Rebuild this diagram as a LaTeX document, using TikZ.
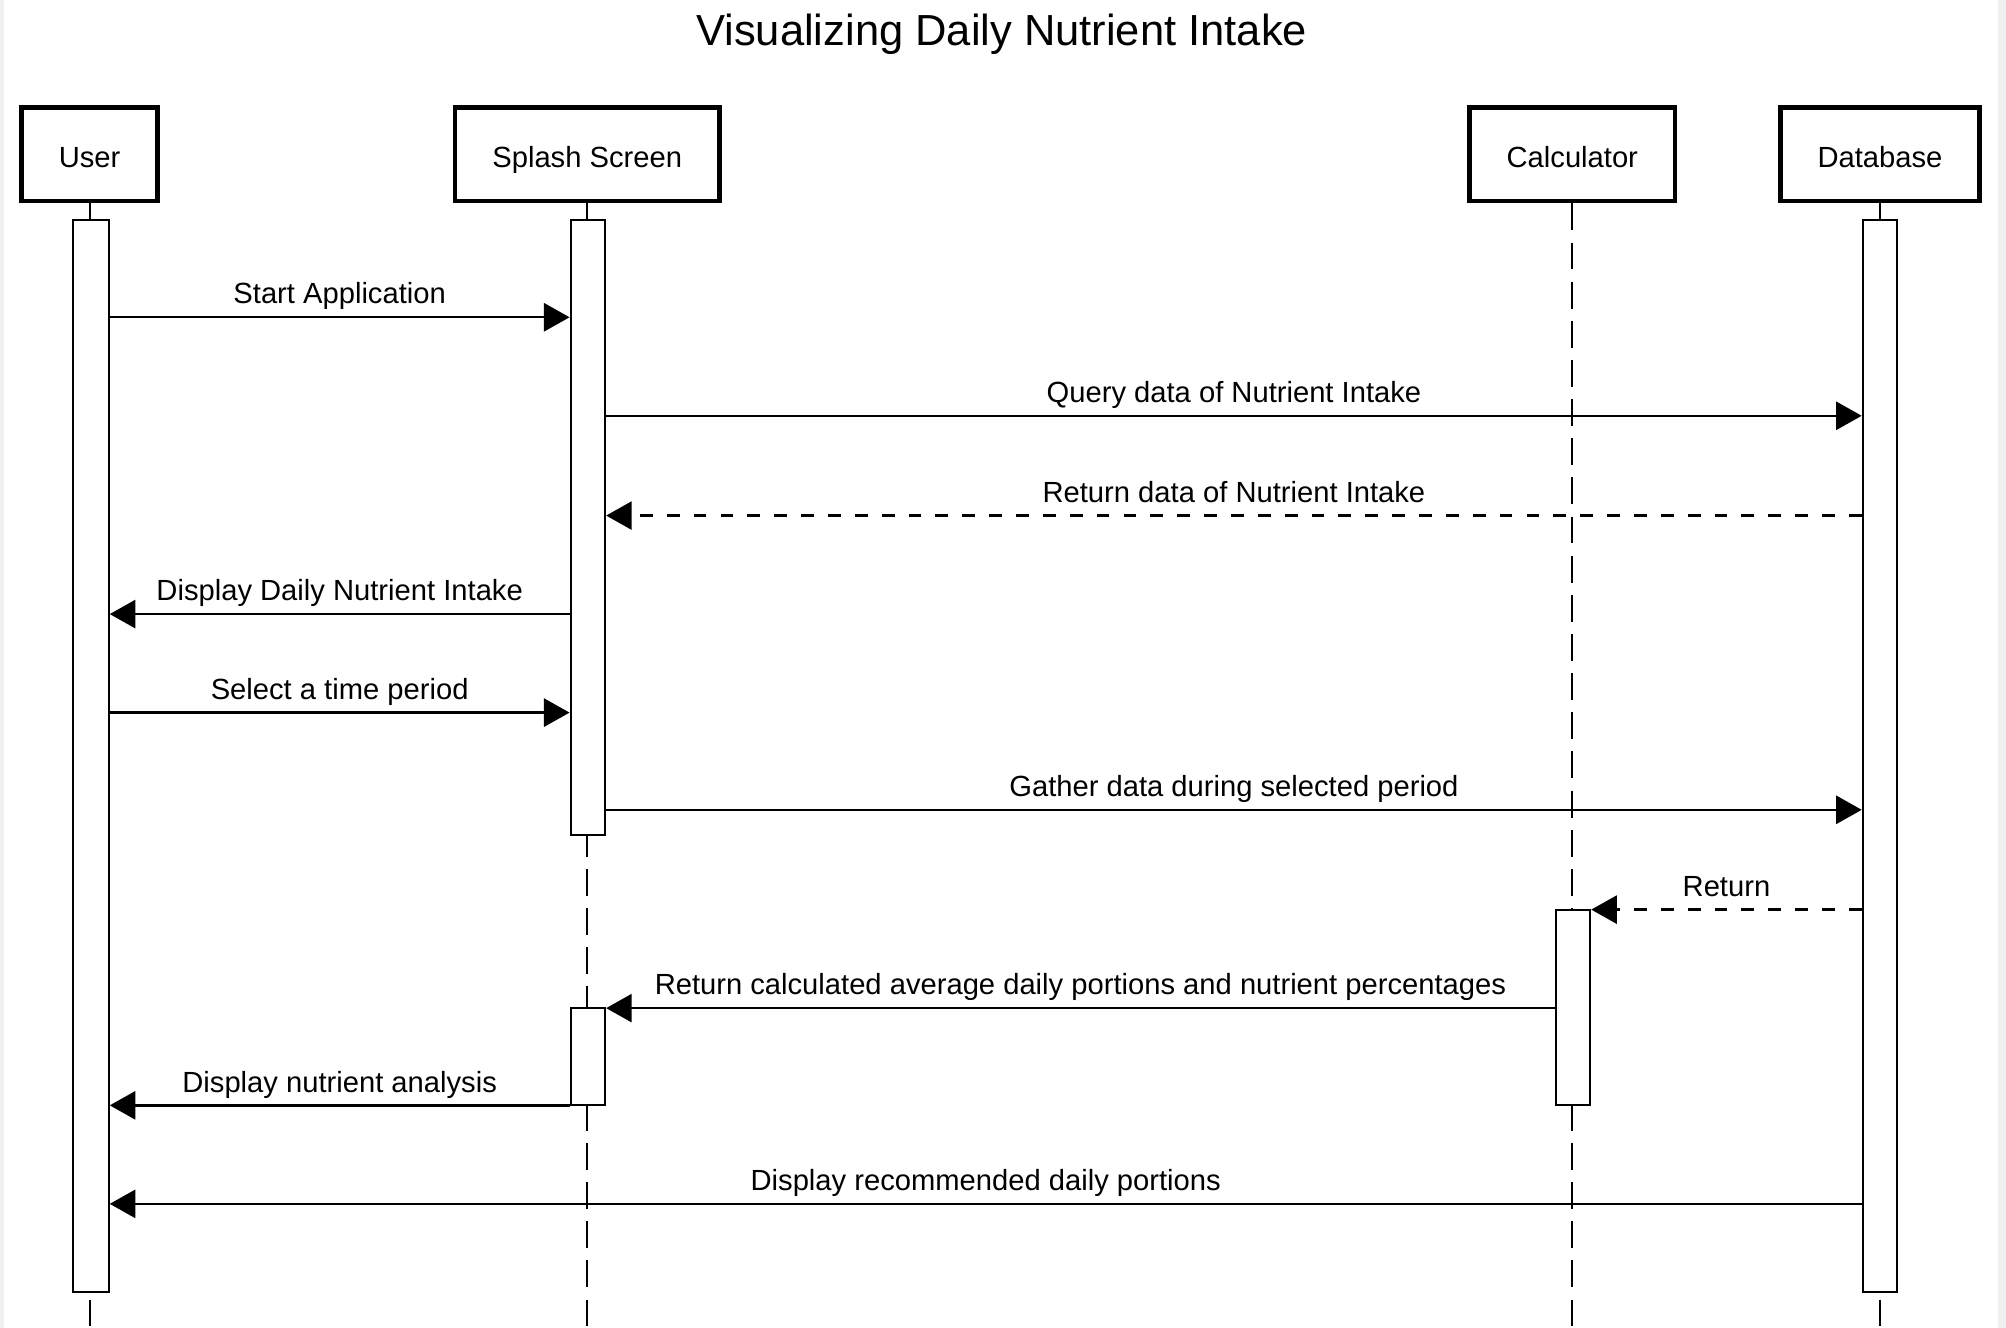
\documentclass[tikz,border=0pt]{standalone}
\usepackage{fontspec}
\setmainfont{Liberation Sans}
\usetikzlibrary{arrows.meta,fit}

\begin{document}
\begin{tikzpicture}[x=0.5pt, y=-0.5pt,
          every node/.style={font=\fontsize{11.4}{13}\selectfont},
          actor/.style={draw, line width=1.8pt, minimum height=36.7pt, inner sep=0pt,
            text height=10.2pt, text depth=0pt},
          bar/.style={draw, fill=white, line width=0.8pt, inner sep=0pt},
          life/.style={line width=0.8pt, dash pattern=on 10.5pt off 4.8pt},
          msg/.style={line width=0.9pt, -{Triangle[length=10pt,width=11pt]}},
          reply/.style={msg, dash pattern=on 5pt off 5.5pt},
          lbl/.style={anchor=base, yshift=5.2pt, inner sep=0pt}]
  \useasboundingbox (0,0) rectangle (1568,1038);
  \fill[black!6] (0,0) rectangle (1568,1038);
  \fill[white] (3,0) rectangle (1562,1038);

  \node[font=\fontsize{17}{20}\selectfont] (title) at (783,27) {Visualizing Daily Nutrient Intake};

  % participants
  \node[actor, minimum width=53.2pt] (user) at (70,120.5) {User};
  \node[actor, minimum width=103.2pt] (splash) at (459,120.5) {Splash Screen};
  \node[actor, minimum width=80.2pt] (calc) at (1229,120.5) {Calculator};
  \node[actor, minimum width=77.7pt] (db) at (1469.5,120.5) {Database};

  % lifelines
  \coordinate (bottom) at (0,1038);
  \draw[life] (user.south) -- (user.south |- bottom);
  \draw[life] (splash.south) -- (splash.south |- bottom);
  \draw[life] (calc.south) -- (calc.south |- bottom);
  \draw[life] (db.south) -- (db.south |- bottom);

  % activations
  \node[bar, fit={(57,172) (85,1010)}] (userbar) {};
  \node[bar, fit={(446,172) (473,653)}] (splbar) {};
  \node[bar, fit={(446,788) (473,864)}] (splbar2) {};
  \node[bar, fit={(1216,711) (1243,864)}] (calcbar) {};
  \node[bar, fit={(1456,172) (1483,1010)}] (dbbar) {};

  % messages
  \coordinate (r1) at (0,248);
  \coordinate (r2) at (0,325);
  \coordinate (r3) at (0,403);
  \coordinate (r4) at (0,480);
  \coordinate (r5) at (0,557);
  \coordinate (r6) at (0,633);
  \coordinate (r7) at (0,711);
  \coordinate (r8) at (0,788);
  \coordinate (r9) at (0,864);
  \coordinate (r10) at (0,941);
  \draw[msg] (userbar.east |- r1) -- node[lbl] {Start Application} (splbar.west |- r1);
  \draw[msg] (splbar.east |- r2) -- node[lbl] {Query data of Nutrient Intake} (dbbar.west |- r2);
  \draw[reply] (dbbar.west |- r3) -- node[lbl] {Return data of Nutrient Intake} (splbar.east |- r3);
  \draw[msg] (splbar.west |- r4) -- node[lbl] {Display Daily Nutrient Intake} (userbar.east |- r4);
  \draw[msg] (userbar.east |- r5) -- node[lbl] {Select a time period} (splbar.west |- r5);
  \draw[msg] (splbar.east |- r6) -- node[lbl] {Gather data during selected period} (dbbar.west |- r6);
  \draw[reply] (dbbar.west |- r7) -- node[lbl] {Return} (calcbar.east |- r7);
  \draw[msg] (calcbar.west |- r8) -- node[lbl] {Return calculated average daily portions and nutrient percentages} (splbar2.east |- r8);
  \draw[msg] (splbar2.west |- r9) -- node[lbl] {Display nutrient analysis} (userbar.east |- r9);
  \draw[msg] (dbbar.west |- r10) -- node[lbl] {Display recommended daily portions} (userbar.east |- r10);
\end{tikzpicture}
\end{document}
